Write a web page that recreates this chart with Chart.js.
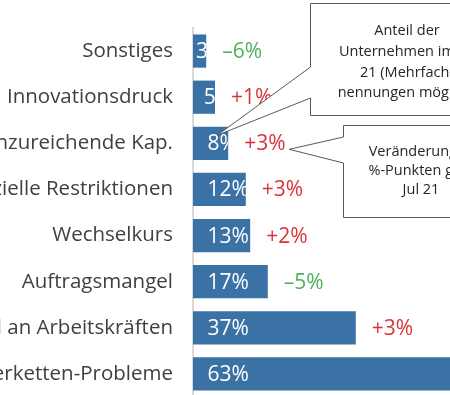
<!DOCTYPE html>
<html>
<head>
<meta charset="utf-8">
<script src="https://cdn.jsdelivr.net/npm/chart.js@4"></script>
<style>
  html, body { margin: 0; padding: 0; width: 450px; height: 395px; overflow: hidden; background: #fff; }
  #chartHemmnisse { position: absolute; left: -120px; top: 0; }
</style>
</head>
<body>
<canvas id="chartHemmnisse" width="700" height="397"></canvas>
<script>
// Daten
const kategorien = ['Sonstiges', 'Innovationsdruck', 'Unzureichende Kap.', 'Finanzielle Restriktionen',
    'Wechselkurs', 'Auftragsmangel', 'Mangel an Arbeitskräften', 'Lieferketten-Probleme'];
const anteile = [3, 5, 8, 12, 13, 17, 37, 63];
const veraenderung = [-6, 1, 3, 3, 2, -5, 3, null]; // %-Punkte, letzter Wert liegt außerhalb des Bildes
const hinweisAnteil = ['Anteil der', 'Unternehmen im Jul', '21 (Mehrfach-', 'nennungen möglich)'];
const hinweisVeraenderung = ['Veränderung in', '%-Punkten ggü.', 'Jul 21'];

const BLAU = '#3a72a6';
const ROT = '#d9343b';
const GRUEN = '#4db35a';
const SCHRIFT = '"Open Sans", "Liberation Sans", sans-serif';

function prozent(v) {
    return (v < 0 ? '\u2013' + Math.abs(v) : '+' + v) + '%';
}

// Zeichnet Werte in den Balken, Veränderungen rechts daneben und die beiden Hinweiskästen
const beschriftung = {
    id: 'beschriftung',
    afterDatasetsDraw(chart) {
        const ctx = chart.ctx;
        const meta = chart.getDatasetMeta(0);
        ctx.save();
        ctx.textBaseline = 'middle';
        meta.data.forEach((bar, i) => {
            const w = bar.x - bar.base;
            // Wert im Balken (wird am Balkenende abgeschnitten)
            ctx.save();
            ctx.beginPath();
            ctx.rect(bar.base, bar.y - bar.height / 2, w, bar.height);
            ctx.clip();
            ctx.font = '21px ' + SCHRIFT;
            ctx.fillStyle = '#fff';
            ctx.textAlign = 'left';
            ctx.fillText(anteile[i] + '%', bar.base + Math.min(14.5, Math.max(0, w - 10) * 0.9), bar.y + 1);
            ctx.restore();
            // Veränderung
            const d = veraenderung[i];
            if (d !== null) {
                ctx.font = '21px ' + SCHRIFT;
                ctx.fillStyle = d < 0 ? GRUEN : ROT;
                ctx.textAlign = 'left';
                ctx.fillText(prozent(d), bar.x + 16, bar.y + 1);
            }
        });
        ctx.restore();
    },
    afterDraw(chart) {
        const ctx = chart.ctx;
        const meta = chart.getDatasetMeta(0);
        const left = chart.chartArea.left;
        const b = meta.data[2]; // Balken "Unzureichende Kap."

        function kasten(x, y, w, h, k1, k2, tx, ty, zeilen, mx, y0, lh) {
            ctx.save();
            ctx.beginPath();
            ctx.moveTo(x, y);
            ctx.lineTo(x + w, y);
            ctx.lineTo(x + w, y + h);
            ctx.lineTo(x, y + h);
            ctx.lineTo(x, k2);
            ctx.lineTo(tx, ty);
            ctx.lineTo(x, k1);
            ctx.closePath();
            ctx.fillStyle = '#fff';
            ctx.fill();
            ctx.strokeStyle = '#595959';
            ctx.lineWidth = 1;
            ctx.stroke();
            ctx.font = '14.5px ' + SCHRIFT;
            ctx.fillStyle = '#262626';
            ctx.textAlign = 'center';
            ctx.textBaseline = 'middle';
            zeilen.forEach((z, j) => ctx.fillText(z, mx, y0 + j * lh));
            ctx.restore();
        }

        // Kasten 1: Anteil
        kasten(left + 117.5, 3.5, 200, 112, 67, 98, b.x - 11, b.y - 8,
            hinweisAnteil, left + 214, 31, 20.7);
        // Kasten 2: Veränderung
        kasten(left + 150.5, 125.5, 200, 92, 137, 163, b.x + 61, b.y + 6,
            hinweisVeraenderung, left + 228, 152, 19);
    }
};

const ctx = document.getElementById('chartHemmnisse').getContext('2d');
const chart = new Chart(ctx, {
    type: 'bar',
    data: {
        labels: kategorien,
        datasets: [{
            data: anteile,
            backgroundColor: BLAU,
            borderWidth: 0,
            barPercentage: 0.72,
            categoryPercentage: 1
        }]
    },
    options: {
        indexAxis: 'y',
        responsive: false,
        animation: false,
        layout: { padding: { top: 28, right: 35, bottom: 0, left: 0 } },
        scales: {
            x: { display: false, min: 0, max: 80 },
            y: {
                grid: { display: false, drawTicks: false },
                border: { display: true, color: '#d9d9d9', width: 2 },
                ticks: {
                    color: '#404040',
                    font: { family: SCHRIFT, size: 20.5 },
                    padding: 20,
                    autoSkip: false
                },
                afterFit(scale) {
                    scale.width = 313;
                    scale.paddingTop = 0;
                    scale.paddingBottom = 0;
                }
            }
        },
        plugins: {
            legend: { display: false },
            tooltip: { enabled: false }
        }
    },
    plugins: [beschriftung]
});
window.myChart = chart;
</script>
</body>
</html>
